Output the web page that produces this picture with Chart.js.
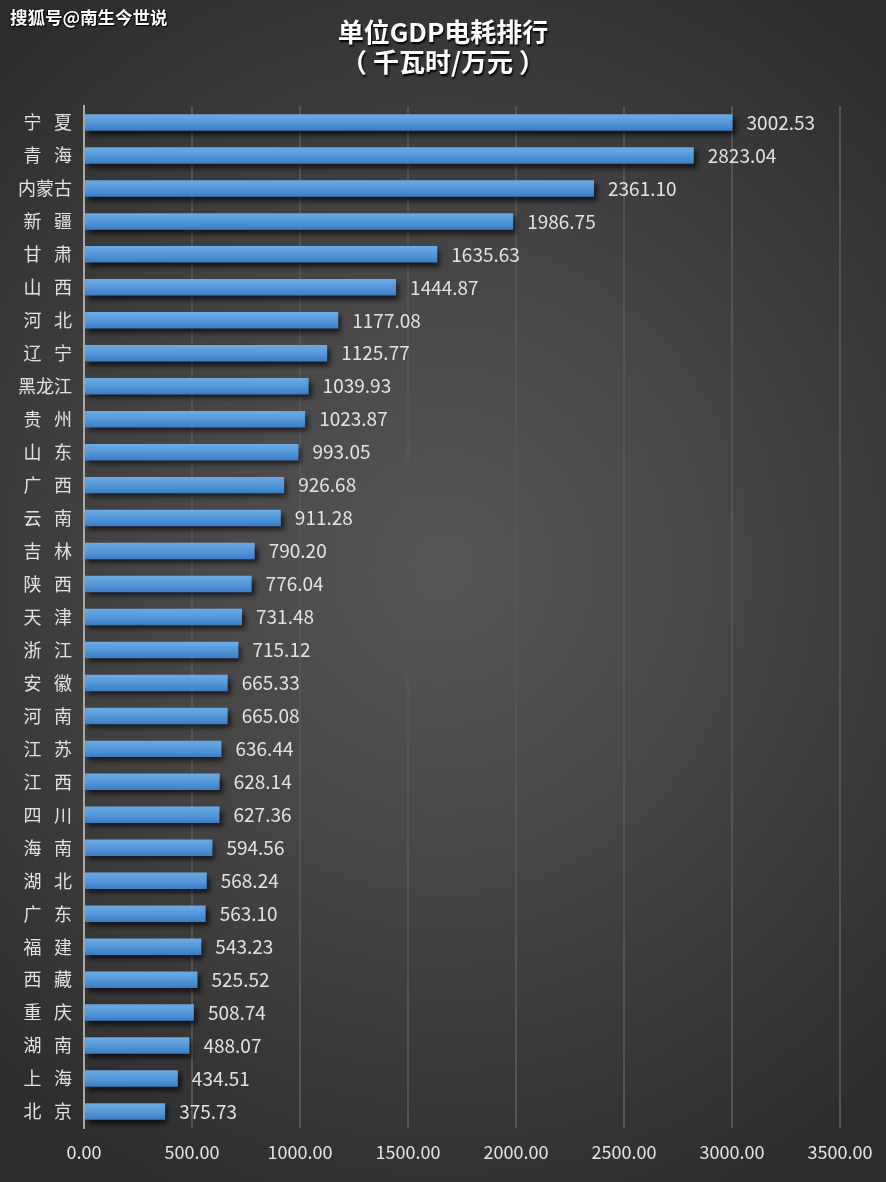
<!DOCTYPE html>
<html>
<head>
<meta charset="utf-8">
<script src="https://cdn.jsdelivr.net/npm/chart.js@4/dist/chart.umd.min.js"></script>
<style>
    html, body { margin: 0; padding: 0; }
    body {
        width: 886px; height: 1182px; overflow: hidden; position: relative;
        background: radial-gradient(ellipse 75% 60% at 50% 48%, #565656 0%, #454545 45%, #2c2c2c 100%);
        font-family: "Noto Sans CJK SC", "Noto Sans", sans-serif;
    }
    #marca {
        position: absolute; left: 10px; top: 4px; color: #fff; font-size: 17.5px; font-weight: bold;
        text-shadow: 1px 1px 1px #000, -1px 0 1px #000;
    }
    #titulo {
        position: absolute; left: 0; width: 886px; top: 16px; text-align: center; color: #fff;
        font-size: 26px; font-weight: bold; line-height: 30px; text-shadow: 1px 2px 2px #000;
    }
    #contenedor { position: absolute; left: 0; top: 0; width: 886px; height: 1182px; }
</style>
</head>
<body>
<div id="contenedor"><canvas id="grafica"></canvas></div>
<div id="marca">搜狐号@南生今世说</div>
<div id="titulo">单位GDP电耗排行<br>（ 千瓦时/万元 ）</div>
<script>
const provincias = ["宁 夏", "青 海", "内蒙古", "新 疆", "甘 肃", "山 西", "河 北", "辽 宁", "黑龙江", "贵 州",
    "山 东", "广 西", "云 南", "吉 林", "陕 西", "天 津", "浙 江", "安 徽", "河 南", "江 苏",
    "江 西", "四 川", "海 南", "湖 北", "广 东", "福 建", "西 藏", "重 庆", "湖 南", "上 海", "北 京"];
const consumo = [3002.53, 2823.04, 2361.10, 1986.75, 1635.63, 1444.87, 1177.08, 1125.77, 1039.93, 1023.87,
    993.05, 926.68, 911.28, 790.20, 776.04, 731.48, 715.12, 665.33, 665.08, 636.44,
    628.14, 627.36, 594.56, 568.24, 563.10, 543.23, 525.52, 508.74, 488.07, 434.51, 375.73];
const ejeMax = 3500;
const paso = 500;

const fuente = '"Noto Sans CJK SC", "Noto Sans", sans-serif';

// los nombres de dos caracteres llevan un hueco más ancho, como en el original
const etiqueta = (nombre) => nombre.replace(" ", "\u2002\u2009");

function colorBarra(context) {
    const chart = context.chart;
    const y = chart.scales.y;
    if (!chart.chartArea || !y || context.dataIndex === undefined) return "#4f92d6";
    const centro = y.getPixelForValue(context.dataIndex);
    const g = chart.ctx.createLinearGradient(0, centro - 8, 0, centro + 8);
    g.addColorStop(0, "#6caae2");
    g.addColorStop(0.5, "#5598da");
    g.addColorStop(1, "#3c7ec6");
    return g;
}

const sombra = {
    id: "sombra",
    beforeDatasetsDraw(chart) {
        const ctx = chart.ctx;
        ctx.save();
        ctx.shadowColor = "rgba(0,0,0,0.65)";
        ctx.shadowBlur = 5;
        ctx.shadowOffsetX = 3;
        ctx.shadowOffsetY = 4;
    },
    afterDatasetsDraw(chart) {
        chart.ctx.restore();
        const ctx = chart.ctx;
        const meta = chart.getDatasetMeta(0);
        ctx.save();
        ctx.fillStyle = "#e2e2e2";
        ctx.font = "19px " + fuente;
        ctx.textBaseline = "middle";
        ctx.textAlign = "left";
        meta.data.forEach((barra, i) => {
            ctx.fillText(consumo[i].toFixed(2), barra.x + 14, barra.y);
        });
        ctx.restore();
    }
};

new Chart(document.querySelector("#grafica"), {
    type: "bar",
    data: {
        labels: provincias.map(etiqueta),
        datasets: [{
            data: consumo,
            backgroundColor: colorBarra,
            borderWidth: 0,
            barPercentage: 0.5,
            categoryPercentage: 1
        }]
    },
    options: {
        indexAxis: "y",
        responsive: true,
        maintainAspectRatio: false,
        animation: false,
        layout: { padding: { top: 106, right: 46, left: 0, bottom: 0 } },
        plugins: { legend: { display: false }, tooltip: { enabled: false } },
        scales: {
            x: {
                min: 0,
                max: ejeMax,
                ticks: {
                    stepSize: paso,
                    color: "#e2e2e2",
                    font: { size: 18, family: fuente },
                    padding: 13,
                    callback: (v) => Number(v).toFixed(2)
                },
                grid: {
                    color: (c) => c.index === 0 ? "rgba(0,0,0,0)" : "#545454",
                    lineWidth: 2,
                    drawTicks: false
                },
                border: { display: false },
                afterFit: (s) => { s.height = 54; }
            },
            y: {
                ticks: {
                    color: "#e2e2e2",
                    font: { size: 18, family: fuente },
                    padding: 12
                },
                grid: { display: false, drawTicks: false },
                border: { display: true, color: "#a8a8a8", width: 2 },
                afterFit: (s) => { s.width = 84; }
            }
        }
    },
    plugins: [sombra]
});
</script>
</body>
</html>
